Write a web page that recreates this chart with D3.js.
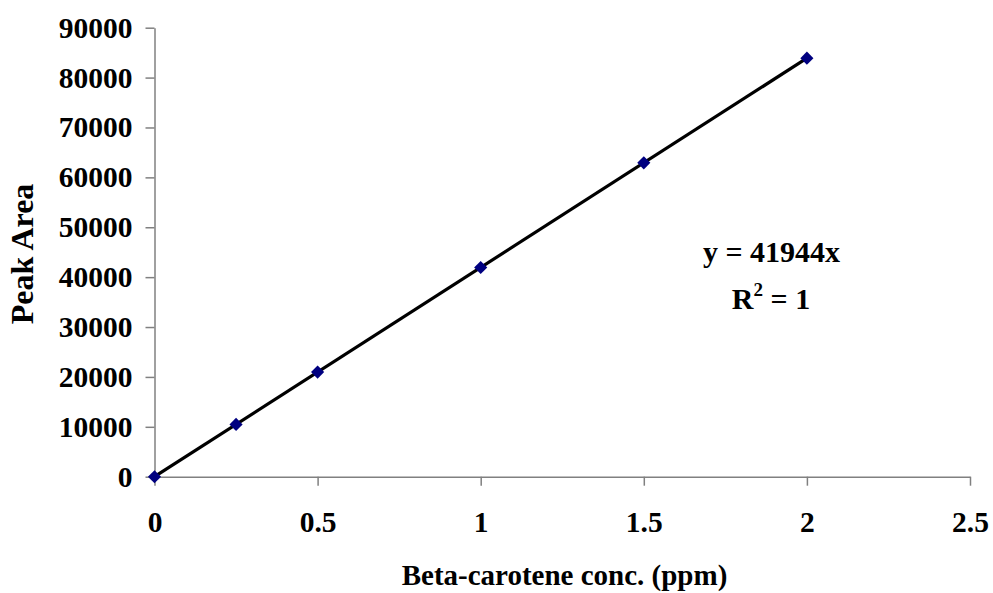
<!DOCTYPE html>
<html>
<head>
<meta charset="utf-8">
<script src="https://cdn.jsdelivr.net/npm/d3@7"></script>
<style>
  html, body { margin: 0; padding: 0; background: #fff; }
  svg { display: block; }
  text { font-family: "Liberation Serif", "Times New Roman", serif; font-weight: bold; fill: #000; }
</style>
</head>
<body>
<svg id="chart" width="993" height="593"></svg>
<script>
// Calibration data: beta-carotene standards
const concentration = [0, 0.25, 0.5, 1, 1.5, 2];
const peakArea = [0, 10486, 20972, 41944, 62916, 83888];
const xTicks = [0, 0.5, 1, 1.5, 2, 2.5];
const yTicks = [0, 10000, 20000, 30000, 40000, 50000, 60000, 70000, 80000, 90000];
const slope = 41944;
const equationLabel = "y = 41944x";
const xTitle = "Beta-carotene conc. (ppm)";
const yTitle = "Peak Area";

const svg = d3.select("#chart");
const plot = { left: 154.5, right: 970, top: 27.7, bottom: 476.7 };

const x = d3.scaleLinear().domain([0, 2.5]).range([plot.left, plot.right]);
const y = d3.scaleLinear().domain([0, 90000]).range([plot.bottom, plot.top]);

const axisColor = "#808080";
const labelSize = 29.5;

function styleAxis(g) {
  g.select(".domain").attr("stroke", axisColor).attr("stroke-width", 1.5);
  g.selectAll(".tick line").attr("stroke", axisColor).attr("stroke-width", 1.5);
  g.selectAll(".tick text").attr("font-size", labelSize)
    .attr("font-family", "Liberation Serif").attr("font-weight", "bold").attr("fill", "#000");
}

// x axis
svg.append("g").attr("transform", `translate(0,${plot.bottom})`)
  .call(d3.axisBottom(x).tickValues(xTicks).tickSize(9).tickSizeOuter(0)
    .tickFormat(d => String(d)).tickPadding(25))
  .call(styleAxis);

// y axis
svg.append("g").attr("transform", `translate(${plot.left},0)`)
  .call(d3.axisLeft(y).tickValues(yTicks).tickSize(9).tickSizeOuter(0)
    .tickFormat(d => String(d)).tickPadding(13))
  .call(styleAxis);

// linear trendline through the origin
const xMax = d3.max(concentration);
svg.append("line")
  .attr("x1", x(0)).attr("y1", y(0))
  .attr("x2", x(xMax)).attr("y2", y(slope * xMax))
  .attr("stroke", "#000").attr("stroke-width", 3.2);

// data markers (diamonds)
const diamond = d3.symbol().type(d3.symbolDiamond2).size(110);
svg.append("g").selectAll("path")
  .data(concentration.map((c, i) => [c, peakArea[i]]))
  .join("path")
  .attr("d", diamond)
  .attr("transform", d => `translate(${x(d[0])},${y(d[1])})`)
  .attr("fill", "#000080");

// regression equation
svg.append("text").attr("x", 771.5).attr("y", 262).attr("text-anchor", "middle")
  .attr("font-size", 30).text(equationLabel);
const r2 = svg.append("text").attr("x", 771).attr("y", 309).attr("text-anchor", "middle")
  .attr("font-size", 30);
r2.append("tspan").text("R");
r2.append("tspan").attr("font-size", 19).attr("dy", -13).text("2");
r2.append("tspan").attr("dy", 13).text(" = 1");

// axis titles
svg.append("text").attr("x", 564.5).attr("y", 585).attr("text-anchor", "middle")
  .attr("font-size", 29).text(xTitle);
svg.append("text").attr("transform", "translate(33,254) rotate(-90)")
  .attr("text-anchor", "middle").attr("font-size", 32).text(yTitle);
</script>
</body>
</html>
